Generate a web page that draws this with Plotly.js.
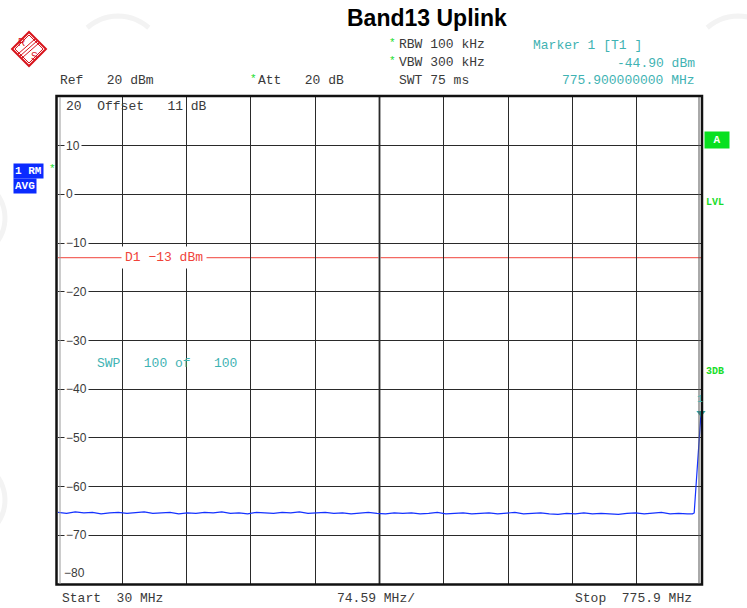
<!DOCTYPE html>
<html>
<head>
<meta charset="utf-8">
<script src="https://cdn.plot.ly/plotly-3.0.1.min.js"></script>
<style>html,body{margin:0;padding:0;background:#fff;}#chart{width:747px;height:608px;}</style>
</head>
<body>
<div id="chart"></div>
<script>
// ---- data ----
const freqMHz = [30,40,50,60,70,80,90,100,110,120,
  130,140,150,160,170,180,190,200,210,220,
  230,240,250,260,270,280,290,300,310,320,
  330,340,350,360,370,380,390,400,410,420,
  430,440,450,460,470,480,490,500,510,520,
  530,540,550,560,570,580,590,600,610,620,
  630,640,650,660,670,680,690,700,710,720,
  730,740,750,760,766,768,770,772,774,775.9];
const levelDbm = [-65.3,-65.5,-65.2,-65.4,-65.3,-65.6,-65.4,-65.3,-65.5,-65.4,
  -65.2,-65.5,-65.4,-65.3,-65.6,-65.4,-65.5,-65.3,-65.4,-65.2,
  -65.5,-65.4,-65.6,-65.3,-65.4,-65.5,-65.3,-65.4,-65.2,-65.5,
  -65.4,-65.3,-65.5,-65.4,-65.6,-65.4,-65.3,-65.5,-65.6,-65.4,
  -65.5,-65.4,-65.6,-65.5,-65.3,-65.6,-65.5,-65.4,-65.6,-65.5,
  -65.4,-65.6,-65.5,-65.3,-65.6,-65.5,-65.4,-65.6,-65.7,-65.5,
  -65.6,-65.4,-65.6,-65.5,-65.6,-65.7,-65.5,-65.4,-65.6,-65.5,
  -65.3,-65.6,-65.5,-65.6,-65.6,-65.4,-60.5,-55.0,-50.0,-44.9];
const yTickVals = [10,0,-10,-20,-30,-40,-50,-60,-70];
const yTickText = ["10","0","\u221210","\u221220","\u221230","\u221240","\u221250","\u221260","\u221270"];
const startMHz = 30, stopMHz = 775.9, spanPerDiv = 74.59;
const refDbm = 20, bottomDbm = -80;
const displayLine = -13;
const marker = {f: 775.9, l: -44.90};

// ---- layout helpers ----
const W = 747, H = 608, L = 58, R = 46, T = 97, B = 24;
const pw = W - L - R, ph = H - T - B;
const px = x => (x - L) / pw;
const py = y => (H - B - y) / ph;
const sp = s => s.replace(/ /g, "\u00a0");

const mono = "Liberation Mono, Courier New, monospace";
const sans = "Liberation Sans, Arial, sans-serif";
const grey = "#3a3a3a", teal = "#3fb3b3", red = "#f0433a", green = "#19dd2a";

const ann = [];
function t(x, y, text, opts) {
  opts = opts || {};
  ann.push(Object.assign({xref: "paper", yref: "paper", x: px(x), y: py(y), text: sp(text),
    showarrow: false, xanchor: "left", yanchor: "middle",
    font: {family: mono, size: 13, color: grey}}, opts));
}
// title
t(427, 18, "<b>Band13 Uplink</b>", {text: "<b>Band13 Uplink</b>", xanchor: "center", font: {family: sans, size: 23, color: "#000"}});
// header
t(58, 81, "Ref   20 dBm");
t(248, 79, "*", {font: {family: mono, size: 11, color: green}});
t(256, 81, "Att   20 dB");
t(387, 43, "*", {font: {family: mono, size: 11, color: green}});
t(397, 45, "RBW 100 kHz");
t(387, 61, "*", {font: {family: mono, size: 11, color: green}});
t(397, 63, "VBW 300 kHz");
t(397, 81, "SWT 75 ms");
t(531, 46, "Marker 1 [T1 ]", {font: {family: mono, size: 13, color: teal}});
t(697, 64, marker.l.toFixed(2) + " dBm", {xanchor: "right", font: {family: mono, size: 13, color: teal}});
t(697, 81, marker.f.toFixed(9) + " MHz", {xanchor: "right", font: {family: mono, size: 13, color: teal}});
// inside plot
t(64, 106, "20  Offset   11 dB");
t(62, 573, "\u221280", {font: {family: sans, size: 12, color: grey}});
t(95, 363, "SWP   100 of   100", {font: {family: mono, size: 13, color: teal}});
// bottom
t(60, 598, "Start  30 MHz");
t(376, 598, spanPerDiv + " MHz/", {xanchor: "center"});
t(694, 598, "Stop  775.9 MHz", {xanchor: "right"});
// left boxes
t(13, 171, "<b>1 RM</b>", {text: "<b>1\u00a0RM</b>", bgcolor: "#0b2bff", borderpad: 1, font: {family: mono, size: 11, color: "#fff"}});
t(13, 186, "<b>AVG</b>", {text: "<b>AVG</b>", bgcolor: "#0b2bff", borderpad: 1, font: {family: mono, size: 11, color: "#fff"}});
t(47, 169, "*", {font: {family: mono, size: 11, color: green}});
// right labels
t(704, 140, "<b> A </b>", {text: "<b>\u00a0A\u00a0</b>", bgcolor: "#08e020", borderpad: 2, font: {family: mono, size: 11, color: "#fff"}});
t(704, 202, "<b>LVL</b>", {text: "<b>LVL</b>", font: {family: mono, size: 10, color: green}});
t(704, 371, "<b>3DB</b>", {text: "<b>3DB</b>", font: {family: mono, size: 10, color: green}});
// y tick labels (drawn at gridlines via data scale)
yTickVals.forEach((v, i) => {
  ann.push({xref: "paper", yref: "y", x: px(64), y: v, text: yTickText[i], showarrow: false,
    xanchor: "left", yanchor: "middle", bgcolor: "#fff", borderpad: 1,
    font: {family: sans, size: 12, color: grey}});
});
// display line label
ann.push({xref: "paper", yref: "y", x: px(121), y: displayLine, text: sp("D1 \u221213 dBm"), showarrow: false,
  xanchor: "left", yanchor: "middle", bgcolor: "#fff", borderpad: 3,
  font: {family: mono, size: 13, color: red}});
// marker number
ann.push({xref: "x", yref: "y", x: marker.f, y: marker.l, text: "1", showarrow: false,
  xanchor: "center", yanchor: "bottom", yshift: 6, xshift: -1,
  font: {family: mono, size: 10, color: teal}});

// shapes
const shapes = [];
shapes.push({type: "line", xref: "paper", yref: "y", x0: 0, x1: 1, y0: displayLine, y1: displayLine,
  line: {color: red, width: 1}, layer: "below"});
shapes.push({type: "line", xref: "x", yref: "paper", x0: startMHz + 5 * spanPerDiv, x1: startMHz + 5 * spanPerDiv,
  y0: 0, y1: 1, line: {color: "#8a8a8a", width: 2.5}, layer: "below"});
shapes.push({type: "rect", xref: "paper", yref: "paper", x0: px(56.5), x1: px(702), y0: py(584.5), y1: py(96),
  line: {color: "#111", width: 2.5}});
shapes.push({type: "line", xref: "paper", yref: "paper", x0: px(60), x1: px(60), y0: py(584), y1: py(97),
  line: {color: "#999", width: 1}});
shapes.push({type: "line", xref: "paper", yref: "paper", x0: px(699), x1: px(699), y0: py(584), y1: py(97),
  line: {color: "#555", width: 1}});
function arc(cx, cy, r, a0, a1) {
  const pts = [];
  for (let a = a0; a <= a1; a += 6) {
    const rad = a * Math.PI / 180;
    pts.push(px(cx + r * Math.cos(rad)).toFixed(4) + "," + py(cy - r * Math.sin(rad)).toFixed(4));
  }
  return "M" + pts.join("L");
}
const wm = {color: "#f3f3f3", width: 5};
shapes.push({type: "path", xref: "paper", yref: "paper", path: arc(118, 62, 46, 48, 132), line: wm, layer: "below"});
shapes.push({type: "path", xref: "paper", yref: "paper", path: arc(738, 62, 46, 48, 132), line: wm, layer: "below"});
shapes.push({type: "path", xref: "paper", yref: "paper", path: arc(-35, 218, 40, -40, 40), line: wm, layer: "below"});
shapes.push({type: "path", xref: "paper", yref: "paper", path: arc(-35, 500, 40, -40, 40), line: wm, layer: "below"});
function poly(points) {
  return "M" + points.map(p => px(p[0]).toFixed(4) + "," + py(p[1]).toFixed(4)).join("L") + "Z";
}
shapes.push({type: "path", xref: "paper", yref: "paper", path: poly([[29,32],[46,49],[29,66],[12,49]]),
  line: {color: "#d8141c", width: 2}});
shapes.push({type: "path", xref: "paper", yref: "paper", path: poly([[29,35],[43,49],[29,63],[15,49]]),
  line: {color: "#d8141c", width: 1}});
[-2, 0, 2].forEach(d => {
  shapes.push({type: "line", xref: "paper", yref: "paper", x0: px(20 + d), y0: py(56 + d), x1: px(37 + d), y1: py(41 + d),
    line: {color: "#d8141c", width: 1}});
});
t(21, 42, "R", {xanchor: "center", font: {family: sans, size: 10, color: "#d8141c"}});
t(34, 57, "S", {xanchor: "center", font: {family: sans, size: 10, color: "#d8141c"}});

const traces = [
  {x: freqMHz, y: levelDbm, type: "scatter", mode: "lines", line: {color: "#1432ff", width: 1.2},
   hoverinfo: "skip", showlegend: false},
  {x: [marker.f], y: [marker.l], type: "scatter", mode: "markers",
   marker: {symbol: "triangle-down", size: 8, color: "#2aa5a5"}, showlegend: false, hoverinfo: "skip", cliponaxis: false}
];

const layout = {
  width: W, height: H,
  margin: {l: L, r: R, t: T, b: B, pad: 0},
  paper_bgcolor: "#fff", plot_bgcolor: "#fff",
  showlegend: false,
  xaxis: {range: [startMHz, stopMHz], tick0: startMHz, dtick: spanPerDiv, showticklabels: false,
    ticks: "", showgrid: true, gridcolor: "#2a2a2a", gridwidth: 1, zeroline: false, showline: false},
  yaxis: {range: [bottomDbm, refDbm], tick0: 0, dtick: 10, showticklabels: false, ticks: "",
    showgrid: true, gridcolor: "#2a2a2a", gridwidth: 1, zeroline: false, showline: false},
  annotations: ann,
  shapes: shapes
};
Plotly.newPlot("chart", traces, layout, {staticPlot: true, displayModeBar: false});
</script>
</body>
</html>
